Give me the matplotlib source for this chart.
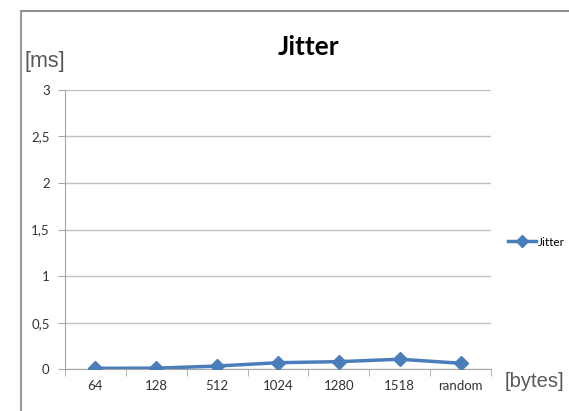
import matplotlib
matplotlib.use("Agg")
import matplotlib.pyplot as plt
from matplotlib.lines import Line2D

# Datos del gráfico
categorias = ["64", "128", "512", "1024", "1280", "1518", "random"]
jitter_ms = [0.011, 0.012, 0.035, 0.071, 0.082, 0.108, 0.065]
yticks = [0, 0.5, 1, 1.5, 2, 2.5, 3]
yticks_etiquetas = ["0", "0,5", "1", "1,5", "2", "2,5", "3"]

AZUL = "#4a7ebb"
GRIS_EJE = "#a6a6a6"
GRIS_REJILLA = "#c0c0c0"

fig = plt.figure(figsize=(5.69, 4.11), dpi=100)
fig.patch.set_facecolor("white")

W, H = 569.0, 411.0
ax = fig.add_axes([65 / W, 1 - 369.3 / H, 426 / W, (369.3 - 89.8) / H])

x = list(range(len(categorias)))
ax.plot(x, jitter_ms, color=AZUL, linewidth=2.5, marker="D", markersize=7.5,
        markeredgecolor=AZUL, markerfacecolor=AZUL, label="Jitter", zorder=3)

ax.set_xlim(-0.5, len(categorias) - 0.5)
ax.set_ylim(0, 3)

ax.set_yticks(yticks)
ax.set_yticklabels(yticks_etiquetas, fontfamily="Lato", fontsize=9.5, color="#333333")
ax.set_xticks(x)
ax.set_xticklabels(categorias, fontfamily="Lato", fontsize=9.5, color="#333333")
ax.tick_params(axis="x", which="major", length=0, pad=8)
ax.set_xticks([i - 0.5 for i in range(len(categorias) + 1)], minor=True)
ax.tick_params(axis="x", which="minor", length=5, color=GRIS_EJE, direction="out")
ax.tick_params(axis="y", length=5, color=GRIS_EJE, direction="out", pad=6)

ax.grid(True, axis="y", color=GRIS_REJILLA, linewidth=1)
ax.set_axisbelow(True)
for lado in ["top", "right"]:
    ax.spines[lado].set_visible(False)
ax.spines["left"].set_color(GRIS_EJE)
ax.spines["bottom"].set_color(GRIS_EJE)

# Título y unidades
fig.text(308.5 / W, 1 - 47 / H, "Jitter", fontfamily="Lato", fontweight="bold",
         fontsize=19, ha="center", va="center", color="black")
fig.text(25 / W, 1 - 61 / H, "[ms]", fontfamily="Liberation Sans", fontsize=15.5,
         ha="left", va="center", color="#595959")
fig.text(505 / W, 1 - 381 / H, "[bytes]", fontfamily="Liberation Sans", fontsize=14.5,
         ha="left", va="center", color="#595959")

# Leyenda
fig.legend(loc="center left", bbox_to_anchor=(508 / W, 1 - 242 / H), frameon=False,
           borderpad=0, borderaxespad=0, handlelength=2.4, handletextpad=0.15,
           prop={"family": "Lato", "size": 8.5}, markerscale=0.8)

# Marco gris del gráfico
fig.add_artist(Line2D([20.7 / W, 1.0], [1 - 11 / H, 1 - 11 / H], color="#8c8c8c", linewidth=1.5))
fig.add_artist(Line2D([20.7 / W, 20.7 / W], [1 - 11 / H, 0.0], color="#9a9a9a", linewidth=1.5))

fig.savefig("out.png", dpi=100)
